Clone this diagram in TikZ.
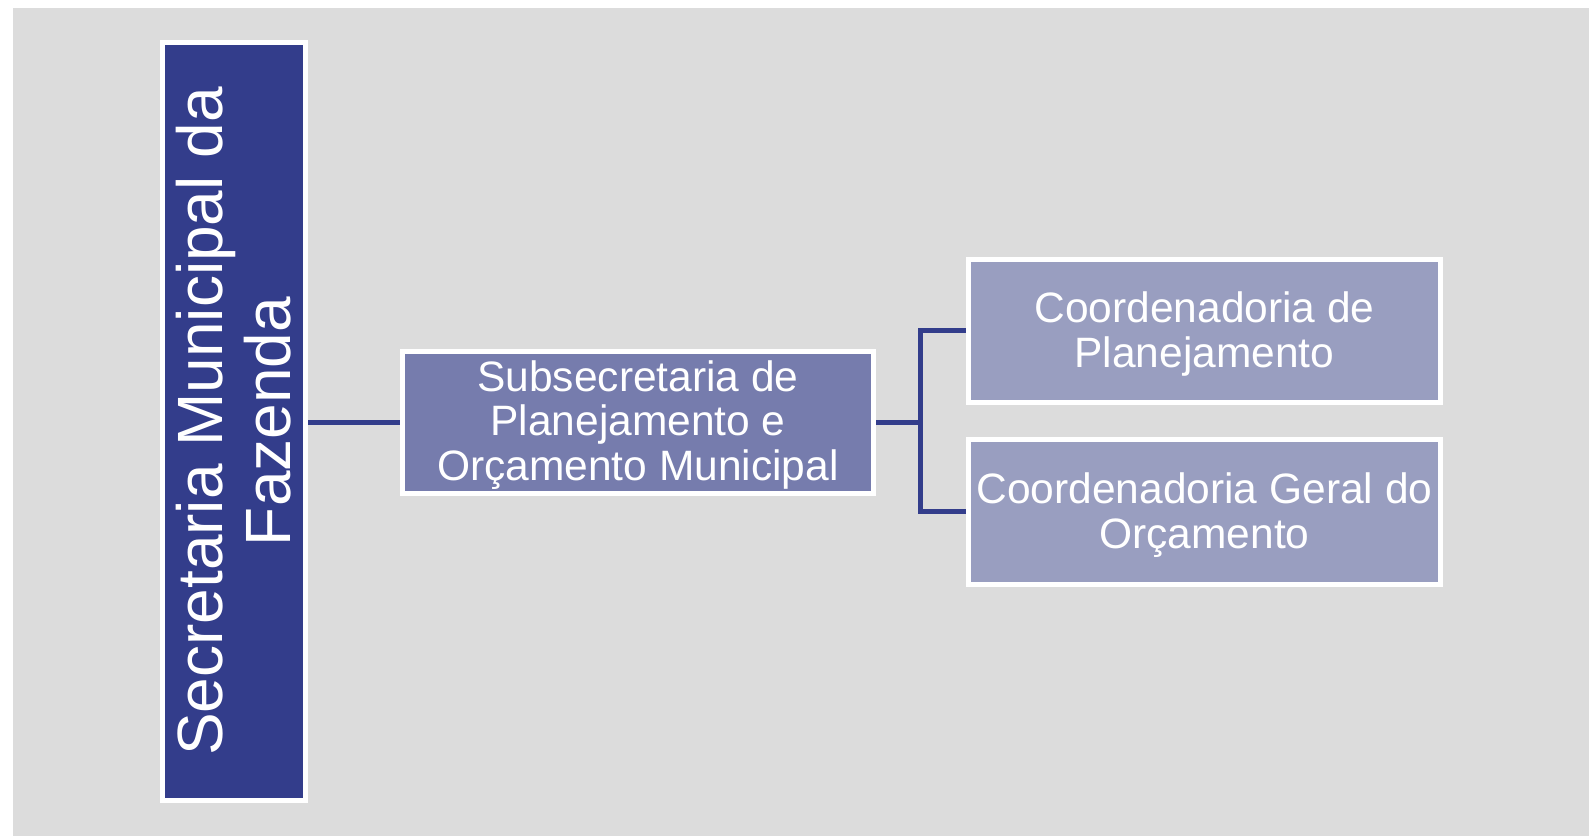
\documentclass[tikz,border=0pt]{standalone}
\usepackage{fontspec}
\setmainfont{Liberation Sans}
\definecolor{bggray}{RGB}{220,220,220}
\definecolor{darkblue}{RGB}{51,61,139}
\definecolor{midblue}{RGB}{118,124,173}
\definecolor{lightblue}{RGB}{153,158,192}
\begin{document}
\begin{tikzpicture}[x=1pt,y=1pt,
  box/.style={draw=white, line width=5pt, rectangle, inner sep=0pt},
  txt/.style={text=white, align=center, inner sep=0pt, font=\fontsize{42.5}{44.5}\selectfont},
  conn/.style={draw=darkblue, line width=5pt}]
\useasboundingbox (0,0) rectangle (1589,836);
\fill[white] (0,0) rectangle (1589,836);
\fill[bggray] (13,0) rectangle (1589,828);
% left (rotated) box
\node[box, fill=darkblue, text=white, align=center, rotate=90, minimum width=758pt, minimum height=143pt,
      font=\fontsize{64}{68}\selectfont] (sec) at (234,414.5) {Secretaria Municipal da\\Fazenda};
% middle box
\node[box, fill=midblue, minimum width=471pt, minimum height=142pt] (sub) at (638,413.5) {};
\node[txt] (subt) at ([yshift=-2.5pt]sub.center) {Subsecretaria de\\Planejamento e\\Orçamento Municipal};
% right boxes
\node[box, fill=lightblue, minimum width=472pt, minimum height=143.5pt] (cp) at (1204.5,505) {};
\node[txt] (cpt) at ([yshift=-3pt]cp.center) {Coordenadoria de\\Planejamento};
\node[box, fill=lightblue, minimum width=472pt, minimum height=144.5pt] (cg) at (1204.5,324.25) {};
\node[txt] (cgt) at ([yshift=-3.5pt]cg.center) {Coordenadoria Geral do\\Orçamento};
% connectors
\draw[conn] (sec.south |- sub.west) -- (sub.west);
\coordinate (bus) at ([xshift=44pt]sub.east);
\draw[conn] (sub.east) -- (bus);
\draw[conn] (bus) |- (cp.west);
\draw[conn] (bus) |- (cg.west);
\end{tikzpicture}
\end{document}
